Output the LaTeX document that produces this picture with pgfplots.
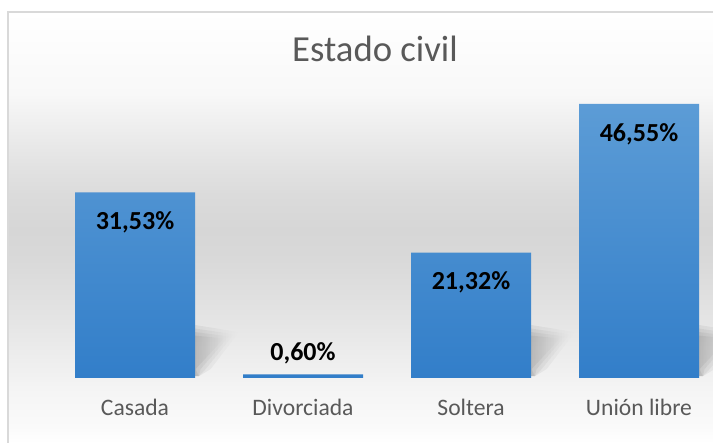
\documentclass[border=0pt]{standalone}
\usepackage{pgfplots}
\usepackage{pgfplotstable}
\pgfplotsset{compat=1.18}
\usepackage{fontspec}
\setmainfont{Carlito}
\usetikzlibrary{fadings}
\definecolor{txtgray}{HTML}{595959}
\definecolor{bartop}{RGB}{92,156,214}
\definecolor{barbot}{RGB}{50,126,201}
\definecolor{framec}{RGB}{217,217,217}

\pgfdeclareverticalshading{chartbg}{100bp}{%
  rgb(0bp)=(1,1,1); rgb(25bp)=(1,1,1);
  rgb(26.9bp)=(0.98,0.98,0.98);
  rgb(30.8bp)=(0.961,0.961,0.961);
  rgb(34.6bp)=(0.933,0.933,0.933);
  rgb(38.5bp)=(0.902,0.902,0.902);
  rgb(42.4bp)=(0.875,0.875,0.875);
  rgb(46.2bp)=(0.851,0.851,0.851);
  rgb(49.7bp)=(0.839,0.839,0.839);
  rgb(53.8bp)=(0.859,0.859,0.859);
  rgb(57.8bp)=(0.894,0.894,0.894);
  rgb(61.7bp)=(0.933,0.933,0.933);
  rgb(65.6bp)=(0.973,0.973,0.973);
  rgb(75bp)=(1,1,1); rgb(100bp)=(1,1,1)}

\pgfplotstableread{
x y lab sh
0 31.53 31,53 -30
1 0.60 0,60 21
2 21.32 21,32 -30
3 46.55 46,55 -30
}\datatable

\begin{document}
\begin{tikzpicture}
\useasboundingbox (0pt,0pt) rectangle (713pt,443pt);
\clip (0pt,0pt) rectangle (713pt,443pt);
\fill[white] (0pt,0pt) rectangle (713pt,443pt);
% chart area background
\shade[shading=chartbg] (8pt,0pt) rectangle (760pt,431pt);
\draw[framec, line width=1.5pt] (8pt,-2pt) -- (8pt,431pt) -- (760pt,431pt);
\node[anchor=base, font=\fontsize{36.7}{40}\selectfont, text=txtgray] at (375pt,381pt) {Estado civil};
\begin{axis}[
  at={(51pt,65pt)}, anchor=south west,
  scale only axis, width=672pt, height=274pt,
  xmin=-0.5, xmax=3.5, ymin=0, ymax=46.55,
  axis line style={draw=none},
  major tick length=0pt,
  ytick=\empty,
  xtick={0,1,2,3},
  xticklabels={Casada, Divorciada, Soltera, Unión libre},
  xticklabel style={anchor=base, yshift=-38pt, font=\fontsize{23.6}{26}\selectfont, text=txtgray},
  clip=false,
]
% soft diagonal shadows behind the bars (layered for a blurred look)
\foreach \i in {0,2,3} {
  \foreach \s in {0,0.03,0.06,0.09} {
    \edef\tmp{\noexpand\fill[black, fill opacity=0.06, path fading=east]
      (axis cs:\i+0.357,0.3) -- (axis cs:\i+0.357,9-20*\s) -- (axis cs:\i+0.62-\s,7.8-12*\s) -- (axis cs:\i+0.45-\s,1.5) -- (axis cs:\i+0.38,0.3) -- cycle;}
    \tmp
  }
}
\addplot[ybar, draw=none, top color=bartop, bottom color=barbot, bar width=120pt,
  nodes near coords={\pgfplotspointmeta\%},
  point meta=explicit symbolic,
  visualization depends on={\thisrow{sh} \as \sh},
  every node near coord/.append style={anchor=center, yshift=\sh, font=\bfseries\fontsize{26}{28}\selectfont, text=black}]
  table[x=x, y=y, meta=lab] {\datatable};
\end{axis}
\end{tikzpicture}
\end{document}
